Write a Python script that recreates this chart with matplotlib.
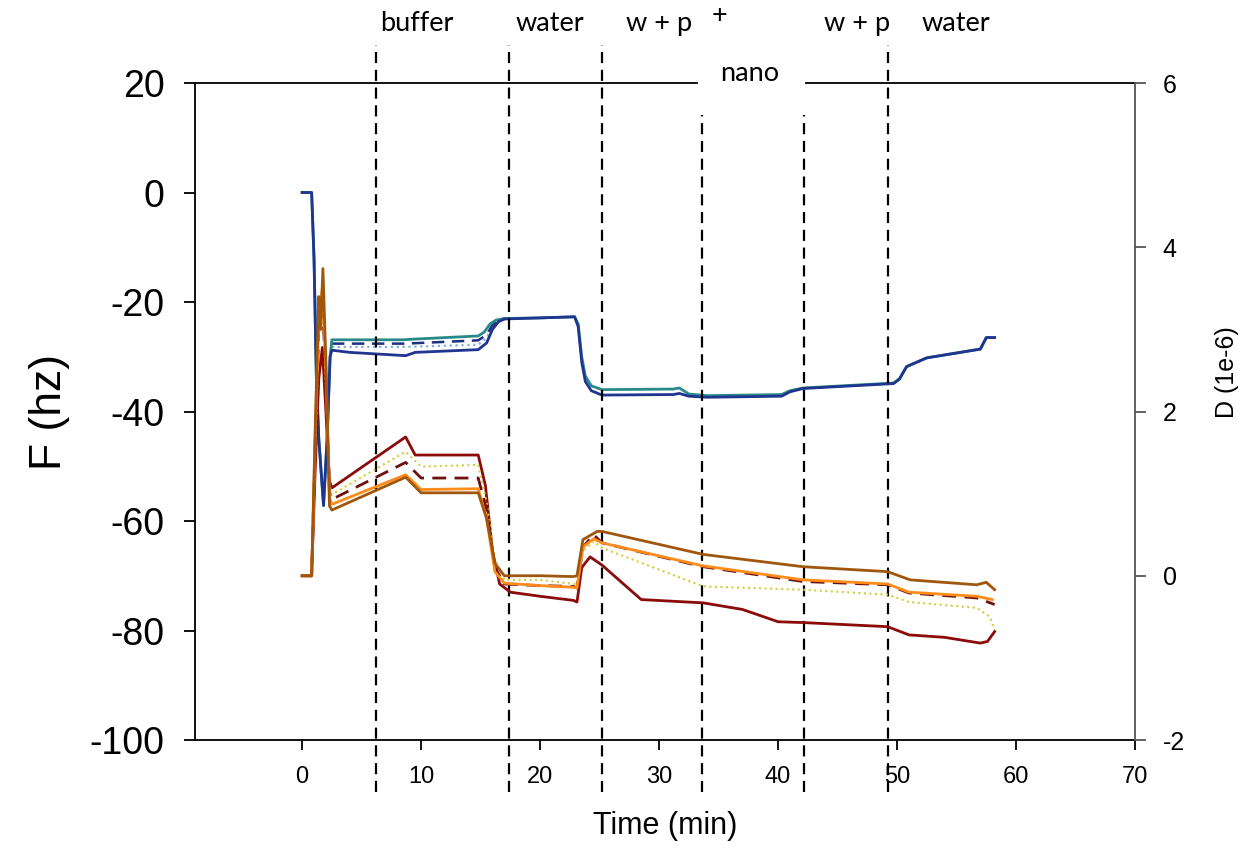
import matplotlib
matplotlib.use("Agg")
import matplotlib.pyplot as plt

plt.rcParams['font.family'] = ['Liberation Sans', 'DejaVu Sans']
plt.rcParams['axes.unicode_minus'] = False

# frequency shifts (left axis, hz)
f_teal_t = [0, 0.8, 1.0, 1.2, 1.4, 1.8, 2.1, 2.35, 2.5, 8.5, 9.2, 14.8, 15.3, 15.8, 16.3, 17.0, 20.0, 22.9,
            23.2, 23.5, 23.8, 24.3, 25.2, 31.2, 31.7, 32.5, 34.0, 40.3, 41.0, 42.1, 49.7, 50.2, 50.8, 52.5,
            57.0, 57.5, 58.2]
f_teal = [0, 0, -12, -34, -45, -57, -45, -30, -26.9, -26.9, -26.8, -26.2, -25.5, -24.0, -23.3, -23.0, -22.9, -22.7,
          -24.0, -30.0, -33.5, -35.3, -36.0, -35.9, -35.7, -36.8, -37.1, -36.9, -36.2, -35.7, -34.8, -34.0, -31.8, -30.2,
          -28.6, -26.5, -26.5]

f_navy_t = [0, 0.8, 1.0, 1.2, 1.4, 1.8, 2.1, 2.35, 2.5, 4.0, 8.7, 9.5, 14.8, 15.5, 16.0, 16.5, 17.0, 20.0, 22.9,
            23.2, 23.5, 23.8, 24.3, 25.2, 31.2, 31.7, 32.5, 34.0, 40.3, 41.0, 42.1, 49.7, 50.2, 50.8, 52.5,
            57.0, 57.5, 58.2]
f_navy = [0, 0, -12, -34, -45, -57.2, -45, -30, -28.8, -29.2, -29.8, -29.2, -28.7, -27.5, -25.0, -23.6, -23.1, -22.9, -22.7,
          -24.5, -31.0, -34.5, -36.2, -37.0, -36.9, -36.7, -37.2, -37.4, -37.2, -36.4, -35.8, -34.9, -34.1, -31.8, -30.2,
          -28.6, -26.5, -26.5]

f_dash_t = [2.5, 8.7, 14.8, 15.5, 16.0, 16.5, 17.0]
f_dash = [-27.6, -27.6, -27.0, -26.0, -24.2, -23.4, -23.1]

f_dot_t = [2.5, 8.7, 14.8, 15.5, 16.0, 16.5, 17.0]
f_dot = [-28.2, -28.2, -27.8, -26.6, -24.5, -23.5, -23.1]

# dissipation (right axis, 1e-6)
d_red_t = [0, 0.8, 1.1, 1.4, 1.7, 2.0, 2.3, 2.5, 5.0, 8.7, 9.5, 14.8, 15.4, 16.0, 16.6, 17.5, 20.0, 22.8,
           23.1, 23.5, 24.2, 25.2, 28.5, 33.7, 37.0, 40.0, 42.1, 49.2, 51.0, 54.0, 57.0, 57.6, 58.2]
d_red = [0, 0, 1.3, 2.4, 2.78, 2.0, 1.15, 1.07, 1.32, 1.69, 1.47, 1.47, 1.1, 0.3, -0.1, -0.2, -0.25, -0.3,
         -0.32, 0.1, 0.23, 0.13, -0.29, -0.33, -0.41, -0.56, -0.57, -0.62, -0.72, -0.75, -0.82, -0.8, -0.68]

d_yellow_t = [0, 0.8, 1.1, 1.4, 1.7, 2.0, 2.3, 2.5, 8.7, 10.0, 14.8, 15.5, 16.2, 17.0, 20.0, 22.8,
              23.1, 23.6, 24.5, 25.2, 33.7, 42.1, 49.2, 51.0, 56.7, 57.8, 58.2]
d_yellow = [0, 0, 1.5, 2.9, 3.3, 2.3, 1.1, 0.99, 1.51, 1.33, 1.35, 0.9, 0.2, -0.05, -0.05, -0.1,
            -0.1, 0.3, 0.42, 0.34, -0.13, -0.17, -0.23, -0.32, -0.39, -0.5, -0.66]

d_maroon_t = [0, 0.8, 1.1, 1.4, 1.7, 2.0, 2.3, 2.5, 8.7, 10.0, 14.8, 15.5, 16.2, 17.0, 20.0, 22.8,
              23.1, 23.6, 24.5, 25.2, 33.7, 42.1, 49.2, 51.0, 56.7, 58.2]
d_maroon = [0, 0, 1.6, 3.0, 3.35, 2.4, 1.0, 0.93, 1.38, 1.19, 1.19, 0.8, 0.1, -0.1, -0.12, -0.13,
            -0.15, 0.35, 0.5, 0.4, 0.11, -0.07, -0.11, -0.21, -0.27, -0.35]

d_orange_t = [0, 0.8, 1.1, 1.4, 1.7, 2.0, 2.3, 2.5, 8.7, 10.0, 14.8, 15.5, 16.2, 17.0, 20.0, 22.8,
              23.1, 23.6, 24.5, 25.2, 33.7, 42.1, 49.2, 51.0, 56.7, 58.0]
d_orange = [0, 0, 1.7, 3.1, 3.5, 2.5, 0.95, 0.87, 1.23, 1.05, 1.06, 0.7, 0.05, -0.09, -0.12, -0.14,
            -0.15, 0.35, 0.45, 0.4, 0.12, -0.05, -0.1, -0.2, -0.25, -0.29]

d_brown_t = [0, 0.8, 1.1, 1.4, 1.55, 1.75, 2.0, 2.3, 2.5, 8.7, 10.0, 14.8, 15.5, 16.2, 17.0, 20.0, 22.8,
             23.1, 23.6, 24.8, 25.2, 33.7, 42.1, 49.2, 51.1, 56.7, 57.5, 58.2]
d_brown = [0, 0, 1.8, 3.4, 3.0, 3.74, 2.6, 0.85, 0.8, 1.2, 1.01, 1.01, 0.7, 0.15, 0.0, 0.0, -0.01,
           0.0, 0.44, 0.54, 0.54, 0.26, 0.11, 0.05, -0.05, -0.11, -0.08, -0.17]

# injection times and labels
phase_times = [6.2, 17.4, 25.2, 33.6, 42.2, 49.2]
phase_labels = ['buffer', 'water', 'w + p', 'w + p', 'water']
phase_label_x = [9.6, 20.8, 30.0, 46.6, 54.9]

fig = plt.figure(figsize=(12.51, 8.55), dpi=100)
ax = fig.add_axes([0.1559, 0.1345, 0.7514, 0.7684])
ax2 = ax.twinx()

ax.plot(f_dot_t, f_dot, color='#7fb2e0', lw=1.6, ls=':')
ax.plot(f_dash_t, f_dash, color='#1c2f80', lw=1.8, ls=(0, (5, 3)))
ax.plot(f_teal_t, f_teal, color='#2a8a8a', lw=2)
ax.plot(f_navy_t, f_navy, color='#1f3590', lw=2)

ax2.plot(d_red_t, d_red, color='#8b0a0a', lw=2)
ax2.plot(d_yellow_t, d_yellow, color='#cfcf3a', lw=1.5, ls=':')
ax2.plot(d_maroon_t, d_maroon, color='#6e1010', lw=2, ls=(0, (5, 3)))
ax2.plot(d_orange_t, d_orange, color='#ff8c1a', lw=2)
ax2.plot(d_brown_t, d_brown, color='#a0560c', lw=2)

ax.set_xlim(-9, 70)
ax.set_xticks(range(0, 71, 10))
ax.set_ylim(-100, 20)
ax.set_yticks(range(-100, 21, 20))
ax2.set_ylim(-2, 6)
ax2.set_yticks(range(-2, 7, 2))

for s in ['top', 'right']:
    ax.spines[s].set_visible(False)
for s in ['top', 'left', 'bottom']:
    ax2.spines[s].set_visible(False)
ax2.spines['right'].set_color('#555555')
ax.spines['left'].set_linewidth(1.3)
ax.spines['bottom'].set_linewidth(1.3)
ax2.spines['right'].set_linewidth(1.3)

ax.tick_params(axis='y', labelsize=27, length=8, width=1.3, pad=14)
ax.tick_params(axis='x', labelsize=17, length=7, width=1.3, pad=12)
ax2.tick_params(axis='y', labelsize=18, length=8, width=1.3, pad=12, color='#555555')

ax.set_xlabel('Time (min)', fontsize=22, labelpad=16)
ax.set_ylabel('F (hz)', fontsize=32, labelpad=14)
ax2.set_ylabel('D (1e-6)', fontsize=18)
ax2.yaxis.set_label_coords(1.085, 0.56)

# top frame line with gap for the "nano" label
ax.plot([0, 0.534], [1, 1], transform=ax.transAxes, color='black', lw=1.3, clip_on=False)
ax.plot([0.65, 1], [1, 1], transform=ax.transAxes, color='black', lw=1.3, clip_on=False)

# injection markers
for i, t in enumerate(phase_times):
    top = 0.951 if i in (3, 4) else 1.058
    ax.axvline(t, ymin=-0.079, ymax=top, color='black', lw=1.6, ls=(0, (5, 3)), clip_on=False, zorder=5)

for lbl, x in zip(phase_labels, phase_label_x):
    ax.text(x, 1.09, lbl, transform=ax.get_xaxis_transform(), ha='center', va='center',
            fontsize=19.5, family='Lato')
ax.text(35.1, 1.103, '+', transform=ax.get_xaxis_transform(), ha='center', va='center',
        fontsize=19.5, family='Lato')
ax.text(37.6, 1.015, 'nano', transform=ax.get_xaxis_transform(), ha='center', va='center',
        fontsize=19.5, family='Lato')

fig.savefig('out.png', dpi=100)
